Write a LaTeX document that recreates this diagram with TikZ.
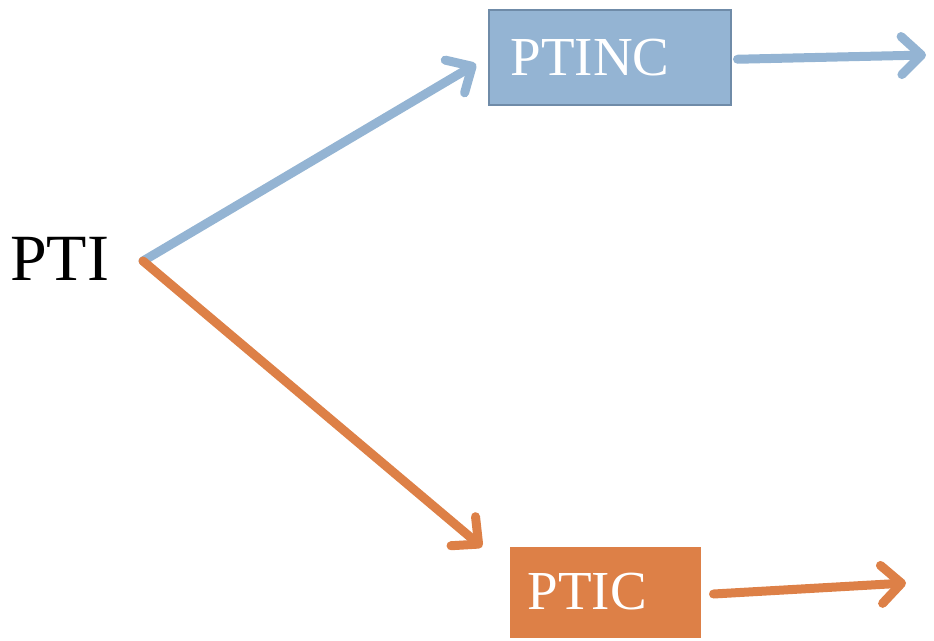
\documentclass[tikz,border=0pt]{standalone}
\usepackage{fontspec}
\setmainfont{Liberation Serif}
\usetikzlibrary{arrows.meta,positioning}
\definecolor{ncblue}{HTML}{94B4D3}
\definecolor{ncedge}{HTML}{6F8BA8}
\definecolor{corange}{HTML}{DD8047}
\tikzset{
  flow/.style={line width=9pt, line cap=round,
    -{Straight Barb[length=20pt,width=38pt,line width=9pt,round]}},
  stagebox/.style={minimum height=95pt, inner ysep=0pt, align=left,
    text=white, font=\fontsize{55}{55}\selectfont}
}
\begin{document}
\begin{tikzpicture}[x=1pt,y=-1pt]
\useasboundingbox (0,0) rectangle (934,640);
\node[font=\fontsize{66}{66}\selectfont, anchor=base west, inner sep=0pt] (pti) at (10,280) {PTI};
\coordinate (split) at (143,261);
\node[stagebox, fill=ncblue, draw=ncedge, line width=1.5pt, text width=198pt, inner xsep=22pt, anchor=north west] (ptinc) at (488,9) {PTINC};
\node[stagebox, fill=corange, draw=white, line width=7pt, text width=155pt, inner xsep=21.5pt, minimum height=98pt, anchor=north west] (ptic) at (502.5,539.5) {PTIC};
\coordinate (outnc) at (926,55);
\coordinate (outc) at (906,583);
% branches
\draw[flow, ncblue] (split) -- (476,64);
\draw[flow, corange] (split) -- (482,547);
% outputs
\draw[flow, ncblue] (ptinc.east) ++(6,2) -- (outnc);
\draw[flow, corange] (ptic.east) ++(6,2) -- (outc);
\end{tikzpicture}
\end{document}
